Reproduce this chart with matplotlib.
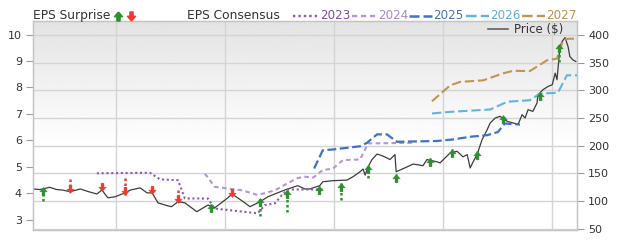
import numpy as np
import pandas as pd
import matplotlib
matplotlib.use("Agg")
import matplotlib.pyplot as plt
import matplotlib.dates as mdates
from matplotlib.path import Path
from matplotlib.lines import Line2D

# ---------------- data ----------------
price_dates = ["2021-03-27", "2021-04-20", "2021-05-23", "2021-06-15", "2021-07-06", "2021-07-30",
               "2021-09-02", "2021-10-01", "2021-10-28", "2021-11-14", "2021-12-04", "2021-12-28",
               "2022-01-31", "2022-02-17", "2022-03-22", "2022-04-14", "2022-05-01", "2022-05-21",
               "2022-06-20", "2022-07-05", "2022-07-27", "2022-08-19", "2022-09-28", "2022-11-04",
               "2022-11-27", "2023-01-10", "2023-01-24", "2023-03-08", "2023-03-25", "2023-04-28",
               "2023-05-24", "2023-07-19", "2023-09-01", "2023-09-25", "2023-10-12", "2023-10-28",
               "2023-11-14", "2023-11-24", "2023-12-28", "2024-02-13", "2024-03-04", "2024-03-28",
               "2024-04-07", "2024-04-14", "2024-04-24", "2024-05-07", "2024-05-24", "2024-06-10",
               "2024-06-26", "2024-07-06", "2024-07-23", "2024-07-27", "2024-09-02", "2024-09-22",
               "2024-10-25", "2024-11-07", "2024-12-11", "2024-12-21", "2025-01-24", "2025-02-16",
               "2025-03-08", "2025-03-22", "2025-04-01", "2025-04-11", "2025-04-24", "2025-05-11",
               "2025-05-28", "2025-06-07", "2025-06-24", "2025-07-10", "2025-08-03", "2025-08-23",
               "2025-09-09", "2025-09-22", "2025-10-02", "2025-10-12", "2025-10-28", "2025-11-11",
               "2025-11-14", "2025-12-01", "2025-12-18", "2026-01-01", "2026-01-11", "2026-01-17",
               "2026-01-27", "2026-02-03", "2026-02-13", "2026-02-23", "2026-03-01", "2026-03-11",
               "2026-03-21"]
price_values = [122, 121, 125, 121, 120, 117,
                122, 117, 113, 120, 106, 108,
                115, 120, 124, 115, 115, 97,
                92, 90, 99, 97, 81, 93,
                88, 106, 113, 97, 90, 99,
                108, 120, 128, 122, 122, 125,
                128, 135, 137, 138, 144, 153,
                158, 147, 162, 175, 185, 182,
                178, 175, 184, 153, 162, 167,
                164, 175, 171, 169, 187, 190,
                180, 184, 160, 171, 184, 211,
                229, 241, 250, 253, 244, 241,
                239, 256, 250, 265, 262, 277,
                292, 301, 307, 310, 331, 319,
                379, 388, 395, 379, 361, 355,
                352]

c2023_dates = ["2021-10-28", "2022-04-24", "2022-05-28", "2022-07-27", "2022-08-19", "2022-11-04",
               "2022-11-27", "2023-04-20", "2023-05-14", "2023-06-17", "2023-07-10", "2023-07-30",
               "2023-11-30"]
c2023_values = [4.76, 4.78, 4.53, 4.50, 3.81, 3.81, 3.43, 3.25, 3.56, 3.63, 3.94, 4.15, 4.15]

c2024_dates = ["2022-10-25", "2022-11-27", "2023-02-26", "2023-04-20", "2023-06-17", "2023-07-30",
               "2023-09-01", "2023-09-25", "2023-10-23", "2023-11-24", "2023-12-28", "2024-01-31",
               "2024-03-28", "2024-04-24", "2024-09-22"]
c2024_values = [4.75, 4.25, 4.12, 3.94, 4.12, 4.39, 4.58, 4.63, 4.60, 4.88, 4.94, 5.26, 5.28, 5.89, 5.91]

c2025_dates = ["2023-10-26", "2023-11-24", "2023-12-28", "2024-03-28", "2024-04-20", "2024-05-24",
               "2024-06-26", "2024-07-30", "2024-12-11", "2025-02-03", "2025-04-01", "2025-05-28",
               "2025-07-03", "2025-07-26", "2025-09-15"]
c2025_values = [4.94, 5.63, 5.66, 5.78, 5.91, 6.23, 6.23, 5.95, 5.98, 6.04, 6.14, 6.20, 6.32, 6.64, 6.60]

c2026_dates = ["2024-11-24", "2025-01-24", "2025-06-07", "2025-08-03", "2025-10-18", "2025-11-21",
               "2026-01-20", "2026-02-19", "2026-03-25"]
c2026_values = [7.02, 7.08, 7.17, 7.46, 7.52, 7.77, 7.80, 8.46, 8.46]

c2027_dates = ["2024-11-24", "2025-01-24", "2025-02-26", "2025-05-15", "2025-07-19", "2025-08-23",
               "2025-10-18", "2025-12-15", "2026-01-17", "2026-02-06", "2026-02-23", "2026-03-21"]
c2027_values = [7.48, 8.08, 8.21, 8.27, 8.53, 8.63, 8.62, 9.03, 9.09, 9.78, 9.84, 9.84]

surprise_dates = ["2021-05-01", "2021-07-30", "2021-11-14", "2022-01-31", "2022-05-01", "2022-07-27",
                  "2022-11-14", "2023-01-24", "2023-04-28", "2023-07-27", "2023-11-11", "2024-01-24",
                  "2024-04-24", "2024-07-27", "2024-11-17", "2025-01-31", "2025-04-24", "2025-07-19",
                  "2025-11-21", "2026-01-24"]
surprise_consensus = [3.71, 4.53, 4.25, 4.57, 4.12, 4.12, 3.37, 4.06, 3.14, 3.31, 4.06, 3.75,
                      4.57, 4.50, 5.10, 5.45, 5.38, 6.79, 7.71, 8.97]
surprise_actual = [4.25, 4.00, 4.08, 3.94, 3.97, 3.65, 3.62, 3.87, 3.81, 4.12, 4.28, 4.38,
                   5.07, 4.72, 5.32, 5.66, 5.61, 6.95, 7.83, 9.66]

year_ticks = ["2022-01-01", "2023-01-01", "2024-01-01", "2025-01-01", "2026-01-01"]
year_labels = ["2022", "2023", "2024", "2025", "2026"]
eps_ticks = [3, 4, 5, 6, 7, 8, 9, 10]
price_ticks = [50, 100, 150, 200, 250, 300, 350, 400]

# ---------------- styles ----------------
plt.rcParams['font.family'] = ['DejaVu Sans']
TXT = "#333333"
GREEN = "#2e8f2e"
RED = "#f03a30"
series_styles = [
    ("2023", "#8a58b4", "#7d4fa6", (0, (1, 1.3)), 1.5),
    ("2024", "#b496d2", "#a889c6", (0, (2.2, 1.6)), 1.5),
    ("2025", "#3f72c2", "#4a72b8", (0, (4, 1.6)), 1.6),
    ("2026", "#62b2e2", "#62acd8", (0, (4.5, 1.8)), 1.5),
    ("2027", "#c29454", "#bd8f50", (0, (4.5, 1.8)), 1.5),
]
series_data = [(c2023_dates, c2023_values), (c2024_dates, c2024_values), (c2025_dates, c2025_values),
               (c2026_dates, c2026_values), (c2027_dates, c2027_values)]

W, H = 620, 252
fig = plt.figure(figsize=(W / 100, H / 100), dpi=100)
L, R, T, B = 33, 577, 21, 230
ax2 = fig.add_axes([L / W, 1 - B / H, (R - L) / W, (B - T) / H])  # price axis (bottom layer)
ax = ax2.twinx()
ax.yaxis.tick_left()
ax.yaxis.set_label_position("left")
ax2.yaxis.tick_right()
ax2.yaxis.set_label_position("right")

x0 = pd.Timestamp("2021-03-28")
x1 = pd.Timestamp("2026-03-25")
ax2.set_xlim(x0, x1)
ax2.set_ylim(48, 425)
ax.set_ylim(2.62, 10.51)

# background gradient
grad = np.concatenate([np.linspace(0.89, 1.0, 120), np.ones(80)]).reshape(-1, 1)
ax2.imshow(grad, cmap="gray", vmin=0, vmax=1, aspect="auto",
           extent=[mdates.date2num(x0), mdates.date2num(x1), 48, 425], origin="upper", zorder=0)
ax2.set_xlim(x0, x1)
ax2.set_ylim(48, 425)

# grid
ax2.set_axisbelow(True)
ax2.grid(True, color="#d4d4d4", lw=1.0)

# price
ax2.plot(pd.to_datetime(price_dates), price_values, color="#3c3c3c", lw=0.9, zorder=3)

# consensus
ax.set_zorder(ax2.get_zorder() + 1)
ax.patch.set_visible(False)
for (name, lc, tc, ls, lw), (d, v) in zip(series_styles, series_data):
    ax.plot(pd.to_datetime(d), v, color=lc, ls=ls, lw=lw, zorder=2)

# surprise arrows
up_path = Path([(0, 0), (-0.9, -1.05), (-0.35, -1.05), (-0.35, -2.0), (0.35, -2.0),
                (0.35, -1.05), (0.9, -1.05), (0, 0)], closed=True)
down_path = Path([(0, 0), (-0.9, 1.05), (-0.35, 1.05), (-0.35, 2.0), (0.35, 2.0),
                  (0.35, 1.05), (0.9, 1.05), (0, 0)], closed=True)
sd = pd.to_datetime(surprise_dates)
for d, c, a in zip(sd, surprise_consensus, surprise_actual):
    col = GREEN if a >= c else RED
    ax.plot([d, d], [c, a], color=col, ls=(0, (1, 1)), lw=1.8, zorder=4)
    ax.plot([d], [a], marker=up_path if a >= c else down_path, ms=12, color=col,
            mec=col, mew=0.3, ls="none", zorder=5)

ax.set_xlim(x0, x1)

# ticks
ax.set_yticks(eps_ticks)
ax.set_yticklabels([str(t) for t in eps_ticks])
ax2.set_yticks(price_ticks)
ax2.set_yticklabels([str(t) for t in price_ticks])
ax.set_xticks(pd.to_datetime(year_ticks))
ax.set_xticklabels(year_labels)
ax2.set_xticks(pd.to_datetime(year_ticks))
ax.tick_params(axis="y", colors="#9a9a9a", labelcolor=TXT, labelsize=8, length=5, width=0.8, pad=3)
ax2.tick_params(axis="y", colors="#9a9a9a", labelcolor=TXT, labelsize=8, length=5, width=0.8, pad=3)
ax.tick_params(axis="x", length=0, labelsize=8.5, labelcolor=TXT, pad=4)
ax2.tick_params(axis="x", length=0, labelbottom=False)

for a_ in (ax, ax2):
    for s in a_.spines.values():
        s.set_color("#c4c4c4")
        s.set_linewidth(0.9)

# price legend inside plot
ax2.plot([0.836, 0.873], [0.960, 0.960], transform=ax2.transAxes, color="#555555", lw=1.1,
         clip_on=False, zorder=6)
ax2.text(0.884, 0.960, "Price ($)", transform=ax2.transAxes, ha="left", va="center",
         fontsize=8.5, color=TXT, zorder=6)

# top legend
ly = 1 - 15.5 / H
fig.text(33 / W, ly, "EPS Surprise", ha="left", va="center", fontsize=8.8, color=TXT)
fig.add_artist(Line2D([118 / W], [ly], marker=Path(up_path.vertices + np.array([0, 1.0])),
                      ms=6.5, color=GREEN, ls="none"))
fig.add_artist(Line2D([131 / W], [ly], marker=Path(down_path.vertices - np.array([0, 1.0])),
                      ms=6.5, color=RED, ls="none"))
fig.text(187 / W, ly, "EPS Consensus", ha="left", va="center", fontsize=8.8, color=TXT)
seg = [(293, 319, 320), (352, 377, 378), (409, 432, 433), (466, 489, 490), (522, 545, 546)]
for (name, lc, tc, ls, lw), (s0, s1, tx) in zip(series_styles, seg):
    fig.add_artist(Line2D([s0 / W, s1 / W], [ly, ly], color=lc, ls=ls, lw=lw + 0.2))
    fig.text(tx / W, ly, name, ha="left", va="center", fontsize=8.6, color=tc)

fig.savefig("out.png", dpi=100)
